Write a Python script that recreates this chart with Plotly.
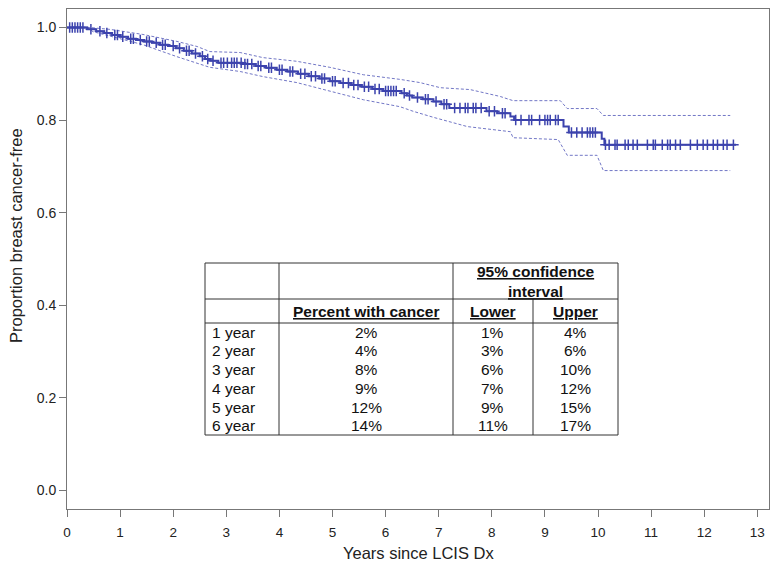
import numpy as np
import plotly.graph_objects as go

# Kaplan-Meier estimate (step times / survival after the step)
event_t = [0, 0.38, 0.55, 0.70, 0.85, 1.00, 1.15, 1.30, 1.45, 1.60, 1.75, 1.90, 2.05, 2.20,
           2.35, 2.50, 2.60, 2.70, 2.85, 3.30, 3.55, 3.75, 3.95, 4.15, 4.35, 4.55, 4.75,
           4.95, 5.15, 5.35, 5.55, 5.75, 5.95, 6.30, 6.40, 6.50, 6.70, 6.90, 7.05, 7.20,
           7.90, 8.10, 8.35, 8.42, 9.35, 9.45, 10.07, 10.12]
surv = [1.000, 0.996, 0.992, 0.988, 0.984, 0.980, 0.976, 0.973, 0.970, 0.967, 0.963, 0.960,
        0.955, 0.950, 0.944, 0.938, 0.932, 0.928, 0.924, 0.921, 0.917, 0.913, 0.909, 0.905,
        0.900, 0.895, 0.890, 0.884, 0.880, 0.876, 0.872, 0.867, 0.863, 0.858, 0.853, 0.849,
        0.845, 0.840, 0.834, 0.826, 0.819, 0.815, 0.808, 0.800, 0.786, 0.773, 0.760, 0.747]
last_t = 12.6

# censored observations
censor_t = [0.05, 0.10, 0.15, 0.20, 0.25, 0.30, 0.45, 0.62, 0.75, 0.90, 0.95, 1.05, 1.20,
            1.25, 1.38, 1.50, 1.55, 1.68, 1.80, 1.85, 2.00, 2.12, 2.25, 2.30, 2.42, 2.55,
            2.65, 2.75, 2.90, 2.95, 3.02, 3.10, 3.15, 3.20, 3.28, 3.35, 3.40, 3.48, 3.60,
            3.65, 3.80, 3.85, 4.00, 4.05, 4.20, 4.25, 4.40, 4.48, 4.60, 4.68, 4.80, 4.85,
            5.00, 5.05, 5.20, 5.30, 5.40, 5.48, 5.60, 5.68, 5.80, 5.88, 6.00, 6.05, 6.10,
            6.15, 6.20, 6.35, 6.45, 6.60, 6.75, 6.80, 6.95, 7.10, 7.15, 7.30, 7.40, 7.50,
            7.55, 7.65, 7.70, 7.80, 7.95, 8.05, 8.20, 8.25, 8.45, 8.55, 8.70, 8.75, 8.90,
            9.00, 9.05, 9.10, 9.20, 9.25, 9.50, 9.60, 9.70, 9.80, 9.85, 9.90, 9.95, 10.14,
            10.21, 10.32, 10.36, 10.51, 10.57, 10.66, 10.74, 10.93, 11.04, 11.08, 11.21,
            11.31, 11.36, 11.46, 11.55, 11.74, 11.87, 11.98, 12.06, 12.17, 12.25, 12.36,
            12.43, 12.55]

# 95% CI bands
upper_t = [0, 0.43, 0.81, 1.43, 2.07, 2.45, 2.69, 3.26, 3.69, 4.33, 4.95, 5.58, 6.27, 6.65,
           7.03, 7.59, 8.16, 8.40, 9.29, 9.42, 9.98, 10.10, 12.49]
upper_s = [1.0, 1.0, 0.996, 0.985, 0.970, 0.959, 0.948, 0.946, 0.935, 0.927, 0.914, 0.898,
           0.888, 0.881, 0.870, 0.866, 0.851, 0.842, 0.842, 0.825, 0.825, 0.810, 0.810]
lower_t = [0, 0.38, 0.49, 0.81, 1.43, 2.07, 2.51, 2.69, 3.26, 3.69, 4.33, 4.95, 5.58, 6.27,
           6.52, 6.90, 7.54, 8.35, 8.40, 9.25, 9.42, 9.98, 10.10, 12.49]
lower_s = [1.0, 1.0, 0.991, 0.981, 0.963, 0.937, 0.920, 0.914, 0.905, 0.894, 0.881, 0.862,
           0.844, 0.829, 0.819, 0.806, 0.786, 0.775, 0.762, 0.758, 0.724, 0.724, 0.691, 0.691]

# table
tbl_years = ['1 year', '2 year', '3 year', '4 year', '5 year', '6 year']
tbl_pct = ['2%', '4%', '8%', '9%', '12%', '14%']
tbl_lower = ['1%', '3%', '6%', '7%', '9%', '11%']
tbl_upper = ['4%', '6%', '10%', '12%', '15%', '17%']

W, H = 778, 570
L, R, T, B = 67, 9, 9, 61

KM_COL = '#3c43ad'
CI_COL = '#7277c6'
FONT = 'Liberation Sans, Arial, sans-serif'

fig = go.Figure()

fig.add_trace(go.Scatter(x=upper_t, y=upper_s, mode='lines', showlegend=False,
                         line=dict(color=CI_COL, width=1, dash='3px,2px')))
fig.add_trace(go.Scatter(x=lower_t, y=lower_s, mode='lines', showlegend=False,
                         line=dict(color=CI_COL, width=1, dash='3px,2px')))
fig.add_trace(go.Scatter(x=event_t + [last_t], y=surv + [surv[-1]], mode='lines',
                         line=dict(color=KM_COL, width=2, shape='hv'), showlegend=False))

idx = np.searchsorted(np.array(event_t), np.array(censor_t), side='right') - 1
cy = np.array(surv)[idx]
fig.add_trace(go.Scatter(x=censor_t, y=cy, mode='markers', showlegend=False,
                         marker=dict(symbol='cross-thin-open', size=7.5, color=KM_COL,
                                     line=dict(color=KM_COL, width=1.5))))


def px(x):
    return (x - L) / (W - L - R)


def py(y):
    return (H - B - y) / (H - T - B)


# table geometry in pixels
cols = [205, 279, 453, 533, 618]
top, r1, r2, bot = 263, 299, 323, 435
lc = dict(color='#333', width=1)
shapes = [
    dict(type='rect', xref='paper', yref='paper', x0=px(cols[0]), x1=px(cols[4]),
         y0=py(top), y1=py(bot), line=lc, fillcolor='white', layer='above'),
    dict(type='line', xref='paper', yref='paper', x0=px(cols[1]), x1=px(cols[1]),
         y0=py(top), y1=py(bot), line=lc),
    dict(type='line', xref='paper', yref='paper', x0=px(cols[2]), x1=px(cols[2]),
         y0=py(top), y1=py(bot), line=lc),
    dict(type='line', xref='paper', yref='paper', x0=px(cols[3]), x1=px(cols[3]),
         y0=py(r1), y1=py(bot), line=lc),
    dict(type='line', xref='paper', yref='paper', x0=px(cols[0]), x1=px(cols[4]),
         y0=py(r1), y1=py(r1), line=lc),
    dict(type='line', xref='paper', yref='paper', x0=px(cols[0]), x1=px(cols[4]),
         y0=py(r2), y1=py(r2), line=lc),
]

ann = []
tf = dict(family=FONT, size=15.5, color='#111')


def u(s):
    return "<span style='text-decoration:underline'><b>" + s + "</b></span>"


def add_text(txt, x, y, anchor='center'):
    ann.append(dict(text=txt, x=px(x), y=py(y), xref='paper', yref='paper',
                    showarrow=False, xanchor=anchor, yanchor='middle', font=tf,
                    align='center'))


add_text(u('95% confidence') + '<br>' + u('interval'), (cols[2] + cols[4]) / 2, (top + r1) / 2)
add_text(u('Percent with cancer'), (cols[1] + cols[2]) / 2, (r1 + r2) / 2)
add_text(u('Lower'), (cols[2] + cols[3]) / 2, (r1 + r2) / 2)
add_text(u('Upper'), (cols[3] + cols[4]) / 2, (r1 + r2) / 2)
rh = (bot - r2) / len(tbl_years)
for i in range(len(tbl_years)):
    yc = r2 + rh * (i + 0.5)
    add_text(tbl_years[i], cols[0] + 5, yc, 'left')
    add_text(tbl_pct[i], (cols[1] + cols[2]) / 2, yc)
    add_text(tbl_lower[i], (cols[2] + cols[3]) / 2, yc)
    add_text(tbl_upper[i], (cols[3] + cols[4]) / 2, yc)

# axis titles
ann.append(dict(text='Proportion breast cancer-free', x=px(16), y=py(236), xref='paper',
                yref='paper', showarrow=False, textangle=-90, xanchor='center',
                yanchor='middle', font=dict(family=FONT, size=16.5, color='#222')))
ann.append(dict(text='Years since LCIS Dx', x=px(418), y=py(553), xref='paper',
                yref='paper', showarrow=False, xanchor='center', yanchor='middle',
                font=dict(family=FONT, size=16.5, color='#222')))

fig.update_layout(
    width=W, height=H,
    margin=dict(l=L, r=R, t=T, b=B),
    plot_bgcolor='white', paper_bgcolor='white',
    font=dict(family=FONT, size=13.5, color='#222'),
    shapes=shapes, annotations=ann,
)
fig.update_xaxes(range=[0, 13.22], tickvals=list(range(14)), ticks='outside', ticklen=7,
                 tickcolor='#777', showline=True, linecolor='#777', mirror=True,
                 ticklabelstandoff=4,
                 showgrid=False, zeroline=False, automargin=False)
fig.update_yaxes(range=[-0.04, 1.04], tickvals=[0, 0.2, 0.4, 0.6, 0.8, 1.0],
                 tickformat='.1f', ticks='outside', ticklen=7, tickcolor='#777',
                 tickfont=dict(size=14),
                 showline=True, linecolor='#777', mirror=True, showgrid=False, zeroline=False,
                 automargin=False)

fig.write_html("out.html", config={'displayModeBar': False},
               post_script="document.body.style.margin='0';")
